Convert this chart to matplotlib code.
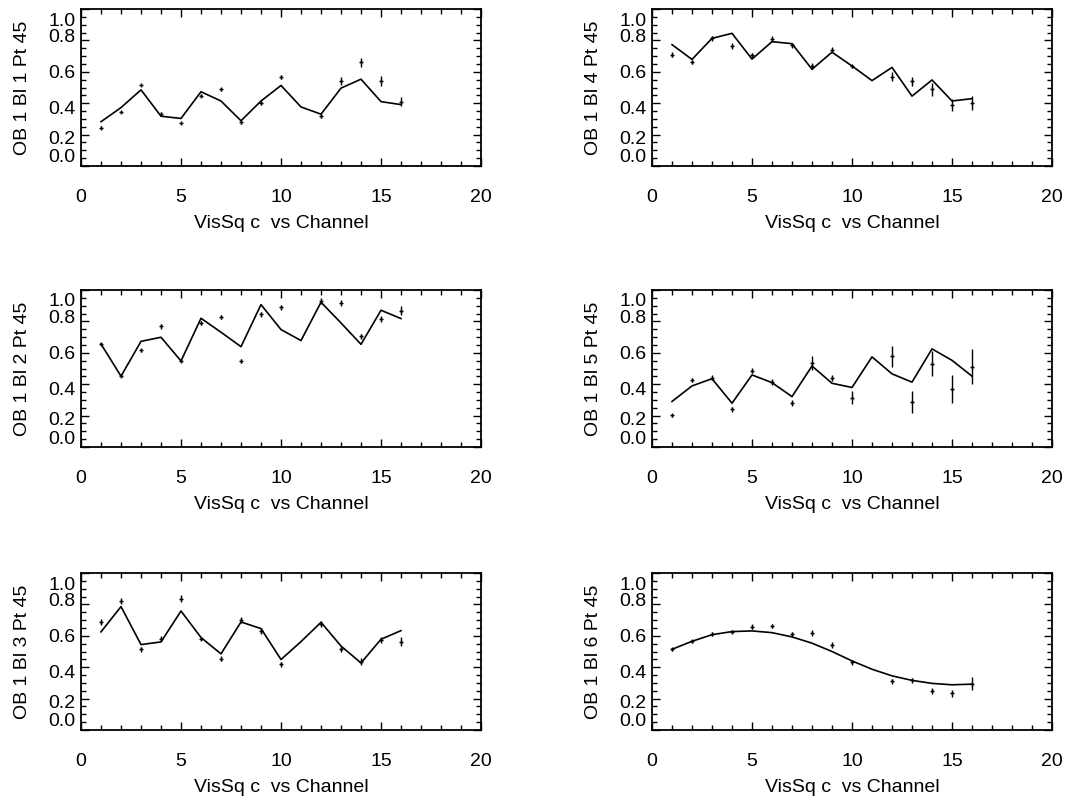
import numpy as np
import matplotlib
matplotlib.use("Agg")
import matplotlib.pyplot as plt
from matplotlib.ticker import MultipleLocator
from matplotlib.transforms import ScaledTranslation

plt.rcParams['font.family'] = ['Liberation Sans', 'DejaVu Sans']

# channels that have a measurement (channel 11 has none)
channels = np.arange(1, 17)
data_channels = [1, 2, 3, 4, 5, 6, 7, 8, 9, 10, 12, 13, 14, 15, 16]

baselines = [1, 2, 3, 4, 5, 6]

# model curves, one value per channel 1..16
model_bl1 = [0.282, 0.372, 0.485, 0.317, 0.303, 0.473, 0.414, 0.288,
             0.414, 0.513, 0.376, 0.330, 0.496, 0.553, 0.410, 0.391]
model_bl2 = [0.656, 0.451, 0.673, 0.699, 0.548, 0.820, 0.731, 0.639,
             0.907, 0.748, 0.678, 0.922, 0.790, 0.654, 0.871, 0.818]
model_bl3 = [0.625, 0.786, 0.544, 0.561, 0.758, 0.589, 0.485, 0.688,
             0.646, 0.449, 0.563, 0.686, 0.535, 0.427, 0.578, 0.633]
model_bl4 = [0.773, 0.679, 0.813, 0.845, 0.681, 0.792, 0.779, 0.616,
             0.725, 0.637, 0.544, 0.628, 0.445, 0.548, 0.414, 0.429]
model_bl5 = [0.290, 0.389, 0.435, 0.279, 0.459, 0.410, 0.321, 0.516,
             0.406, 0.379, 0.574, 0.466, 0.413, 0.625, 0.552, 0.451]
model_bl6 = [0.514, 0.565, 0.607, 0.627, 0.631, 0.620, 0.593, 0.553,
             0.500, 0.440, 0.387, 0.345, 0.316, 0.297, 0.288, 0.292]

# measured squared visibilities and their errors (channels in data_channels)
vis_bl1 = [0.244, 0.345, 0.517, 0.332, 0.273, 0.447, 0.489, 0.279,
           0.403, 0.569, 0.319, 0.540, 0.660, 0.542, 0.410]
err_bl1 = [0.008, 0.008, 0.008, 0.01, 0.008, 0.01, 0.01, 0.01,
           0.012, 0.012, 0.012, 0.025, 0.03, 0.03, 0.03]
vis_bl2 = [0.656, 0.451, 0.616, 0.769, 0.548, 0.788, 0.828, 0.548,
           0.845, 0.890, 0.930, 0.919, 0.705, 0.815, 0.869]
err_bl2 = [0.008, 0.008, 0.01, 0.015, 0.008, 0.012, 0.012, 0.015,
           0.017, 0.017, 0.02, 0.02, 0.017, 0.02, 0.03]
vis_bl3 = [0.690, 0.822, 0.514, 0.582, 0.837, 0.582, 0.455, 0.701,
           0.629, 0.419, 0.676, 0.514, 0.436, 0.572, 0.563]
err_bl3 = [0.02, 0.017, 0.015, 0.017, 0.02, 0.01, 0.015, 0.02,
           0.02, 0.015, 0.02, 0.02, 0.02, 0.02, 0.03]
vis_bl4 = [0.710, 0.662, 0.813, 0.765, 0.704, 0.809, 0.769, 0.637,
           0.742, 0.634, 0.569, 0.540, 0.489, 0.387, 0.399]
err_bl4 = [0.017, 0.015, 0.015, 0.017, 0.017, 0.017, 0.015, 0.017,
           0.017, 0.01, 0.027, 0.03, 0.04, 0.037, 0.044]
vis_bl5 = [0.203, 0.427, 0.442, 0.239, 0.487, 0.413, 0.281, 0.533,
           0.438, 0.313, 0.578, 0.287, 0.531, 0.370, 0.512]
err_bl5 = [0.01, 0.015, 0.015, 0.015, 0.015, 0.017, 0.017, 0.045,
           0.02, 0.042, 0.066, 0.07, 0.08, 0.087, 0.11]
vis_bl6 = [0.514, 0.565, 0.610, 0.627, 0.657, 0.661, 0.612, 0.616,
           0.540, 0.430, 0.311, 0.316, 0.250, 0.233, 0.294]
err_bl6 = [0.01, 0.01, 0.012, 0.01, 0.015, 0.012, 0.012, 0.02,
           0.02, 0.015, 0.015, 0.015, 0.02, 0.02, 0.042]

models = [model_bl1, model_bl2, model_bl3, model_bl4, model_bl5, model_bl6]
vis = [vis_bl1, vis_bl2, vis_bl3, vis_bl4, vis_bl5, vis_bl6]
errs = [err_bl1, err_bl2, err_bl3, err_bl4, err_bl5, err_bl6]

yticks = [0.0, 0.2, 0.4, 0.6, 0.8, 1.0]
# the old plot had its y labels nudged off the ticks (pixels, + = down)
label_shift = [-10, 3, 4, 0, -5, 10]

W, H = 1065, 798
fig = plt.figure(figsize=(W / 100, H / 100), dpi=100)

col_left = [81, 652]
row_top = [9, 290, 573]
ax_w, ax_h = 400, 157

for i, bl in enumerate(baselines):
    col = i // 3
    row = i % 3
    left = col_left[col] / W
    bottom = (H - row_top[row] - ax_h) / H
    ax = fig.add_axes([left, bottom, ax_w / W, ax_h / H])

    ax.plot(channels, models[i], color="black", lw=1.2)
    ax.errorbar(data_channels, vis[i], yerr=errs[i], fmt="+", color="black",
                ms=3.5, mew=1.0, elinewidth=1.0, capsize=0)

    ax.set_xlim(0, 20)
    ax.set_ylim(0, 1.0)
    ax.set_yticks(yticks)
    ax.set_yticklabels([f"{v:.1f}" for v in yticks])
    ax.xaxis.set_major_locator(MultipleLocator(5))
    ax.xaxis.set_minor_locator(MultipleLocator(1))
    ax.yaxis.set_minor_locator(MultipleLocator(0.05))
    ax.tick_params(which="both", direction="in", top=True, right=True,
                   labelsize=14, width=1.0, colors="black")
    ax.tick_params(which="major", length=6)
    ax.tick_params(which="minor", length=3.5)
    ax.tick_params(axis="x", pad=16.5)
    ax.tick_params(axis="y", pad=4)
    for sp in ax.spines.values():
        sp.set_linewidth(1.3)

    for lab, dy in zip(ax.get_yticklabels(), label_shift):
        lab.set_transform(lab.get_transform() +
                          ScaledTranslation(0, -dy / 100, fig.dpi_scale_trans))

    ax.set_xlabel("VisSq c  vs Channel", fontsize=14, labelpad=6.5)
    ax.set_ylabel(f"OB 1 Bl {bl} Pt 45", fontsize=14, labelpad=12.5)

fig.savefig("out.png", dpi=100)
